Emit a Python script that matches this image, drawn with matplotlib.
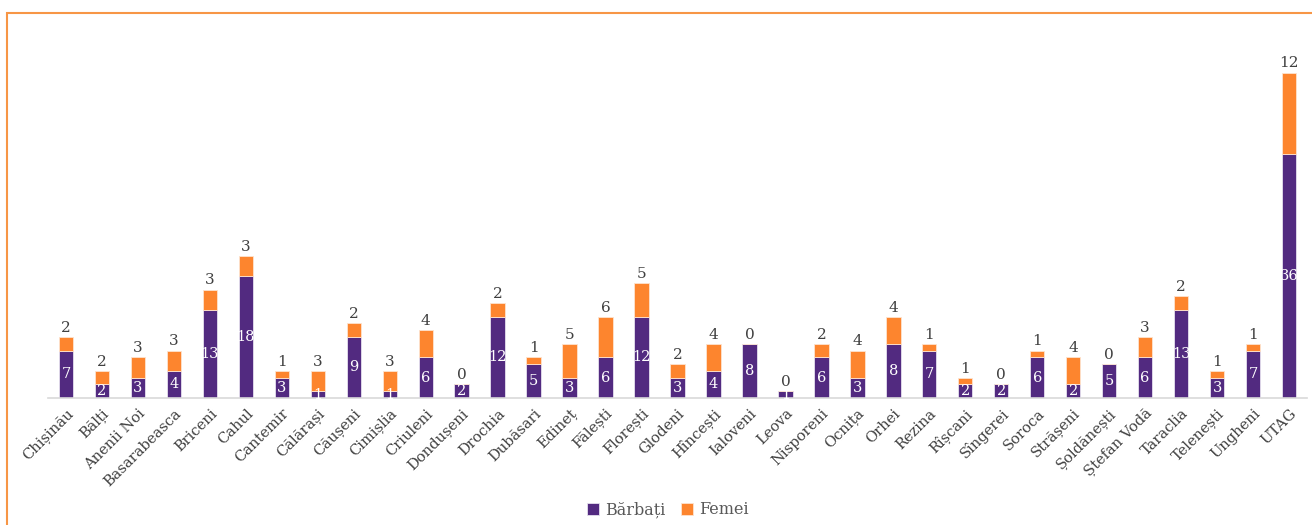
import matplotlib
matplotlib.use("Agg")
from matplotlib import pyplot as plt
from matplotlib.patches import Rectangle

raioane = ["Chișinău", "Bălți", "Anenii Noi", "Basarabeasca", "Briceni", "Cahul",
           "Cantemir", "Călărași", "Căușeni", "Cimișlia", "Criuleni", "Dondușeni",
           "Drochia", "Dubăsari", "Edineț", "Fălești", "Florești", "Glodeni",
           "Hîncești", "Ialoveni", "Leova", "Nisporeni", "Ocnița", "Orhei",
           "Rezina", "Rîșcani", "Sîngerei", "Soroca", "Strășeni", "Șoldănești",
           "Ștefan Vodă", "Taraclia", "Telenești", "Ungheni", "UTAG"]
barbati = [7, 2, 3, 4, 13, 18, 3, 1, 9, 1, 6, 2, 12, 5, 3, 6, 12, 3, 4, 8, 1,
           6, 3, 8, 7, 2, 2, 6, 2, 5, 6, 13, 3, 7, 36]
femei = [2, 2, 3, 3, 3, 3, 1, 3, 2, 3, 4, 0, 2, 1, 5, 6, 5, 2, 4, 0, 0,
         2, 4, 4, 1, 1, 0, 1, 4, 0, 3, 2, 1, 1, 12]

mov = "#522A80"
portocaliu = "#FD852E"
gri = "#404040"

plt.rcParams['font.family'] = ['DejaVu Serif']

fig = plt.figure(figsize=(13.12, 5.25), dpi=100)
ax = fig.add_axes([48/1312, 1 - 398/525, 1259/1312, 339/525])

x = list(range(len(raioane)))
b1 = ax.bar(x, barbati, width=0.4, color=mov, edgecolor="#E6E0EE", linewidth=0.6,
            label="Bărbați", zorder=2)
b2 = ax.bar(x, femei, width=0.4, bottom=barbati, color=portocaliu, edgecolor="#FDE3CF",
            linewidth=0.6, label="Femei", zorder=2)

for i in x:
    ax.text(i, barbati[i] / 2, str(barbati[i]), ha="center", va="center",
            color="white", fontsize=10.5, zorder=3)
    ax.annotate(str(femei[i]), (i, barbati[i] + femei[i]), xytext=(0, 1.5),
                textcoords="offset points", ha="center", va="bottom",
                color=gri, fontsize=11, zorder=3)

ax.set_xlim(-0.5, len(raioane) - 0.5)
ax.set_ylim(0, 50)
ax.set_xticks(x)
ax.set_xticklabels(raioane, rotation=45, ha="right", rotation_mode="anchor",
                   fontsize=10.5, color=gri)
ax.tick_params(axis="x", length=0, pad=6)
ax.set_yticks([])
for s in ["top", "right", "left"]:
    ax.spines[s].set_visible(False)
ax.spines["bottom"].set_color("#D9D9D9")
ax.spines["bottom"].set_linewidth(1.2)

leg = fig.legend(handles=[b1, b2], loc="center", bbox_to_anchor=(668/1312, 1 - 510/525),
                 ncol=2, frameon=False, fontsize=11.5, handlelength=0.7, handleheight=0.7,
                 columnspacing=1.0, handletextpad=0.4)
for t in leg.get_texts():
    t.set_color("#595959")

fig.patches.append(Rectangle((7/1312, -0.1), 1.2, 1 - 13/525 + 0.1, transform=fig.transFigure,
                             fill=False, edgecolor="#F79646", linewidth=1.5))

fig.savefig("out.png", dpi=100)
